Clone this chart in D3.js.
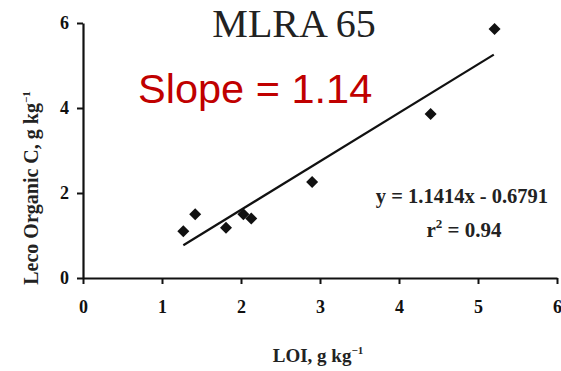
<!DOCTYPE html>
<html>
<head>
<meta charset="utf-8">
<script src="https://cdn.jsdelivr.net/npm/d3@7"></script>
<style>
  body { margin: 0; background: #fff; }
  svg { display: block; }
</style>
</head>
<body>
<div id="chart"></div>
<script>
/* DATA */
const loi = [1.27, 1.42, 1.81, 2.03, 2.13, 2.9, 4.4, 5.21];
const lecoC = [1.1, 1.5, 1.18, 1.5, 1.4, 2.26, 3.86, 5.86];
const xTicks = [0, 1, 2, 3, 4, 5, 6];
const yTicks = [0, 2, 4, 6];
const slope = 1.1414, intercept = -0.6791;
const fitRange = [1.27, 5.2];

const width = 561, height = 371;
const serif = "Liberation Serif, Times New Roman, serif";

const svg = d3.select("#chart").append("svg")
  .attr("width", width)
  .attr("height", height);

// scales
const x = d3.scaleLinear().domain([0, 6]).range([83, 557]);
const y = d3.scaleLinear().domain([0, 6]).range([278, 23]);

// axes
const xAxis = svg.append("g")
  .attr("transform", `translate(0,${y(0)})`)
  .call(d3.axisBottom(x).tickValues(xTicks).tickFormat(d3.format("d")).tickSize(6).tickSizeOuter(0).tickPadding(16));
const yAxis = svg.append("g")
  .attr("transform", `translate(${x(0)},0)`)
  .call(d3.axisLeft(y).tickValues(yTicks).tickFormat(d3.format("d")).tickSize(6).tickSizeOuter(0).tickPadding(8));

[xAxis, yAxis].forEach(g => {
  g.attr("font-family", serif).attr("font-weight", "bold").attr("font-size", 18);
  g.select(".domain").attr("stroke", "#111").attr("stroke-width", 2.2);
  g.selectAll(".tick line").attr("stroke", "#111").attr("stroke-width", 2);
  g.selectAll(".tick text").attr("fill", "#111");
});

// regression line
svg.append("line")
  .attr("x1", x(fitRange[0]))
  .attr("y1", y(slope * fitRange[0] + intercept))
  .attr("x2", x(fitRange[1]))
  .attr("y2", y(slope * fitRange[1] + intercept))
  .attr("stroke", "#111")
  .attr("stroke-width", 2.2);

// points as diamonds
svg.selectAll("path.pt")
  .data(loi.map((d, i) => [d, lecoC[i]]))
  .join("path")
  .attr("class", "pt")
  .attr("d", d3.symbol(d3.symbolSquare, 72))
  .attr("transform", d => `translate(${x(d[0])},${y(d[1])}) rotate(45)`)
  .attr("fill", "#111");

// title
svg.append("text")
  .attr("x", 294).attr("y", 37)
  .attr("text-anchor", "middle")
  .attr("font-family", serif)
  .attr("font-size", 40)
  .attr("fill", "#222")
  .text("MLRA 65");

// slope annotation
svg.append("text")
  .attr("x", 138).attr("y", 103)
  .attr("font-family", "Liberation Sans, Arial, sans-serif")
  .attr("font-size", 41.5)
  .attr("fill", "#c00000")
  .text("Slope = 1.14");

// equation
const eq = svg.append("g")
  .attr("font-family", serif)
  .attr("font-weight", "bold")
  .attr("fill", "#222")
  .attr("text-anchor", "middle");
eq.append("text")
  .attr("x", 462).attr("y", 203)
  .attr("font-size", 20.5)
  .text("y = 1.1414x - 0.6791");
const r2 = eq.append("text")
  .attr("x", 464).attr("y", 237)
  .attr("font-size", 21);
r2.append("tspan").text("r");
r2.append("tspan").attr("dy", -9).attr("font-size", 13).text("2");
r2.append("tspan").attr("dy", 9).text(" = 0.94");

// x label
const xl = svg.append("text")
  .attr("x", 318).attr("y", 362)
  .attr("text-anchor", "middle")
  .attr("font-family", serif)
  .attr("font-weight", "bold")
  .attr("font-size", 19)
  .attr("fill", "#222");
xl.append("tspan").text("LOI, g kg");
xl.append("tspan").attr("dy", -8).attr("font-size", 11).text("−1");

// y label
const yl = svg.append("text")
  .attr("transform", "translate(38,188) rotate(-90)")
  .attr("text-anchor", "middle")
  .attr("font-family", serif)
  .attr("font-weight", "bold")
  .attr("font-size", 20)
  .attr("fill", "#222");
yl.append("tspan").text("Leco Organic C, g kg");
yl.append("tspan").attr("dy", -8).attr("font-size", 11).text("−1");
</script>
</body>
</html>
